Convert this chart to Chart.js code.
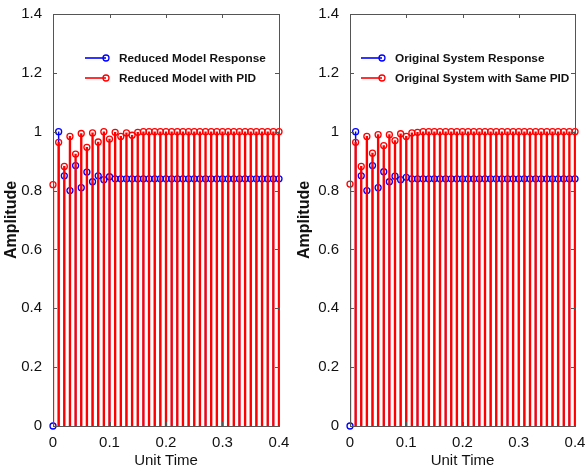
<!DOCTYPE html>
<html>
<head>
<meta charset="utf-8">
<script src="https://cdn.jsdelivr.net/npm/chart.js@4.4.1/dist/chart.umd.min.js"></script>
<style>
  body { margin: 0; background: #fff; }
  #wrap { position: relative; width: 587px; height: 473px; }
  canvas { position: absolute; top: 0; }
</style>
</head>
<body>
<div id="wrap">
  <canvas id="izq" width="293" height="473" style="left:0"></canvas>
  <canvas id="der" width="294" height="473" style="left:293px"></canvas>
</div>
<script>
// tiempo (eje x) y respuestas
const tiempo = [0, 0.01, 0.02, 0.03, 0.04, 0.05, 0.06, 0.07, 0.08, 0.09,
  0.10, 0.11, 0.12, 0.13, 0.14, 0.15, 0.16, 0.17, 0.18, 0.19,
  0.20, 0.21, 0.22, 0.23, 0.24, 0.25, 0.26, 0.27, 0.28, 0.29,
  0.30, 0.31, 0.32, 0.33, 0.34, 0.35, 0.36, 0.37, 0.38, 0.39, 0.40];

const reducidoResp = [0, 1.0, 0.85, 0.80, 0.885, 0.81, 0.863, 0.83, 0.85, 0.837,
  0.847, 0.84, 0.84, 0.84, 0.84, 0.84, 0.84, 0.84, 0.84, 0.84,
  0.84, 0.84, 0.84, 0.84, 0.84, 0.84, 0.84, 0.84, 0.84, 0.84,
  0.84, 0.84, 0.84, 0.84, 0.84, 0.84, 0.84, 0.84, 0.84, 0.84, 0.84];

const reducidoPID = [0.82, 0.964, 0.882, 0.984, 0.924, 0.994, 0.947, 0.996, 0.965, 1.0,
  0.975, 0.998, 0.984, 0.996, 0.988, 0.998, 1.0, 1.0, 1.0, 1.0,
  1.0, 1.0, 1.0, 1.0, 1.0, 1.0, 1.0, 1.0, 1.0, 1.0,
  1.0, 1.0, 1.0, 1.0, 1.0, 1.0, 1.0, 1.0, 1.0, 1.0, 1.0];

const originalResp = [0, 1.0, 0.85, 0.80, 0.885, 0.81, 0.864, 0.83, 0.849, 0.837,
  0.845, 0.84, 0.84, 0.84, 0.84, 0.84, 0.84, 0.84, 0.84, 0.84,
  0.84, 0.84, 0.84, 0.84, 0.84, 0.84, 0.84, 0.84, 0.84, 0.84,
  0.84, 0.84, 0.84, 0.84, 0.84, 0.84, 0.84, 0.84, 0.84, 0.84, 0.84];

const originalPID = [0.822, 0.964, 0.882, 0.984, 0.927, 0.99, 0.953, 0.99, 0.97, 0.993,
  0.984, 0.996, 0.998, 1.0, 1.0, 1.0, 1.0, 1.0, 1.0, 1.0,
  1.0, 1.0, 1.0, 1.0, 1.0, 1.0, 1.0, 1.0, 1.0, 1.0,
  1.0, 1.0, 1.0, 1.0, 1.0, 1.0, 1.0, 1.0, 1.0, 1.0, 1.0];

const ticksY = [0, 0.2, 0.4, 0.6, 0.8, 1, 1.2, 1.4];
const ticksX = [0, 0.1, 0.2, 0.3, 0.4];

const FUENTE = '"Liberation Sans", Arial, sans-serif';
const ROJO = '#ff0000';
const AZUL = '#0000ff';

// ticks hacia adentro y caja de ejes, estilo MATLAB
const ejesCaja = {
  id: 'ejesCaja',
  afterDraw(chart) {
    const { ctx, chartArea: a, scales: { x, y } } = chart;
    ctx.save();
    ctx.strokeStyle = '#555';
    ctx.lineWidth = 1;
    ctx.beginPath();
    ticksY.forEach(v => {
      const py = Math.round(y.getPixelForValue(v)) + 0.5;
      ctx.moveTo(a.left, py); ctx.lineTo(a.left + 4, py);
      ctx.moveTo(a.right, py); ctx.lineTo(a.right - 4, py);
    });
    ticksX.forEach(v => {
      const px = Math.round(x.getPixelForValue(v)) + 0.5;
      ctx.moveTo(px, a.bottom); ctx.lineTo(px, a.bottom - 4);
      ctx.moveTo(px, a.top); ctx.lineTo(px, a.top + 4);
    });
    ctx.stroke();
    ctx.strokeRect(Math.round(a.left) + 0.5, Math.round(a.top) + 0.5,
      Math.round(a.width), Math.round(a.height));
    ctx.restore();
  }
};

// leyenda sin recuadro
const leyendaTallo = {
  id: 'leyendaTallo',
  afterDraw(chart, args, opts) {
    const ctx = chart.ctx;
    ctx.save();
    ctx.font = 'bold 11.8px ' + FUENTE;
    ctx.textBaseline = 'middle';
    opts.items.forEach((it, i) => {
      const y = opts.y + i * 20;
      ctx.strokeStyle = it.color;
      ctx.lineWidth = 1.6;
      ctx.beginPath();
      ctx.moveTo(opts.x, y); ctx.lineTo(opts.x + 21, y);
      ctx.stroke();
      ctx.lineWidth = 1.3;
      ctx.beginPath();
      ctx.arc(opts.x + 21, y, 3, 0, Math.PI * 2);
      ctx.stroke();
      ctx.fillStyle = '#111';
      ctx.fillText(it.label, opts.x + 34, y + 1);
    });
    ctx.restore();
  }
};

function armarDatasets(resp, pid) {
  const pares = serie => tiempo.map((t, i) => ({ x: t, y: serie[i] }));
  const tallo = (serie, color, grosor, orden) => ({
    type: 'bar', data: pares(serie), backgroundColor: color,
    barThickness: grosor, grouped: false, order: orden
  });
  const marca = (serie, color, orden) => ({
    type: 'line', data: pares(serie), showLine: false,
    pointRadius: 3, pointBorderWidth: 1.3, pointBorderColor: color,
    pointBackgroundColor: 'rgba(0,0,0,0)', clip: false, order: orden
  });
  return [
    marca(pid, ROJO, 0),
    tallo(pid, ROJO, 1.7, 1),
    marca(resp, AZUL, 2),
    tallo(resp, AZUL, 0.8, 3)
  ];
}

function crearPanel(id, resp, pid, anchoY, derecha, textos, xLey) {
  new Chart(document.getElementById(id), {
    type: 'bar',
    data: { datasets: armarDatasets(resp, pid) },
    options: {
      responsive: false,
      animation: false,
      layout: { padding: { top: 14, right: derecha, left: 0, bottom: 0 } },
      plugins: {
        legend: { display: false },
        tooltip: { enabled: false },
        leyendaTallo: {
          x: xLey, y: 58,
          items: [
            { label: textos[0], color: AZUL },
            { label: textos[1], color: ROJO }
          ]
        }
      },
      scales: {
        x: {
          type: 'linear', min: 0, max: 0.4, offset: false,
          grid: { display: false }, border: { display: false },
          afterBuildTicks: s => { s.ticks = ticksX.map(v => ({ value: v })); },
          afterFit: s => { s.height = 47; },
          ticks: {
            color: '#111', font: { family: FUENTE, size: 15 }, padding: 0,
            maxRotation: 0, callback: v => String(v)
          },
          title: {
            display: true, text: 'Unit Time', color: '#111',
            font: { family: FUENTE, size: 15 }, padding: { top: 0, bottom: 3 }
          }
        },
        y: {
          min: 0, max: 1.4,
          grid: { display: false }, border: { display: false },
          afterBuildTicks: s => { s.ticks = ticksY.map(v => ({ value: v })); },
          afterFit: s => { s.width = anchoY; },
          ticks: {
            color: '#111', font: { family: FUENTE, size: 15 }, padding: 3,
            callback: v => String(+v.toFixed(1))
          },
          title: {
            display: true, text: 'Amplitude', color: '#111',
            font: { family: FUENTE, size: 16, weight: 'bold' }, padding: { top: 2, bottom: 0 }
          }
        }
      }
    },
    plugins: [ejesCaja, leyendaTallo]
  });
}

crearPanel('izq', reducidoResp, reducidoPID, 53, 14,
  ['Reduced Model Response', 'Reduced Model with PID'], 85);
crearPanel('der', originalResp, originalPID, 57, 12,
  ['Original System Response', 'Original System with Same PID'], 68);
</script>
</body>
</html>
